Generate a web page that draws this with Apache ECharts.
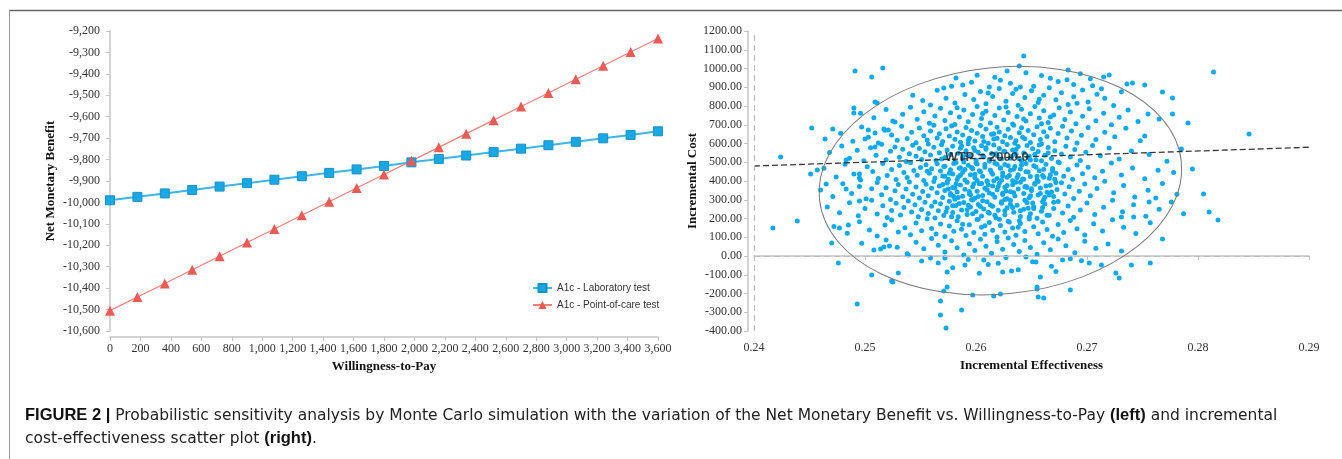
<!DOCTYPE html>
<html>
<head>
<meta charset="utf-8">
<title>Figure 2</title>
<script src="https://cdn.jsdelivr.net/npm/echarts@6/dist/echarts.min.js"></script>
<style>
    html, body { margin: 0; padding: 0; background: #fff; }
    #chart { width: 1342px; height: 459px; }
</style>
</head>
<body>
<div id="chart"></div>
<script>
// ---- left panel: net monetary benefit vs willingness-to-pay ----
var wtpValues = [0, 180, 360, 540, 720, 900, 1080, 1260, 1440, 1620, 1800,
    1980, 2160, 2340, 2520, 2700, 2880, 3060, 3240, 3420, 3600];
var labTestNmb = [-9990, -9974, -9958, -9942, -9926, -9910, -9894, -9878, -9862, -9846, -9830,
    -9813, -9797, -9781, -9765, -9749, -9733, -9717, -9701, -9685, -9668];
var pocTestNmb = [-10505, -10441, -10378, -10314, -10251, -10187, -10124, -10060, -9997, -9933, -9870,
    -9806, -9743, -9679, -9616, -9552, -9489, -9425, -9362, -9298, -9235];
var seriesNames = ['A1c - Laboratory test', 'A1c - Point-of-care test'];

// ---- right panel: incremental cost-effectiveness plane ----
var wtpThreshold = 2000;
var wtpLineEnds = [[0.24, 480], [0.29, 580]];
var wtpLabelPos = [0.2610, 528];
// confidence ellipse: centre, end of major axis, end of minor axis
var ellipseCenter = [0.2622, 402];
var ellipseMajorEnd = [0.2785, 503];
var ellipseMinorEnd = [0.2611, 1003];

var icerPoints = [
    // outliers
    [0.2491,987],[0.2506,955],[0.2516,1003],[0.2643,1067],[0.2639,1013],[0.2509,821],[0.2511,816],[0.2490,789],
    [0.2490,763],[0.2452,683],[0.2471,677],[0.2464,624],[0.2424,528],[0.2451,437],[0.2457,459],[0.2465,384],
    [0.2483,512],[0.2483,357],[0.2495,437],[0.2495,416],[0.2503,672],[0.2500,624],[0.2509,656],[0.2509,581],
    [0.2517,677],[0.2521,672],[0.2525,720],[0.2582,949],[0.2571,896],
    [0.2814,981],[0.2846,651],[0.2791,709],[0.2777,843],[0.2777,757],[0.2768,875],[0.2765,731],[0.2785,571],
    [0.2795,464],[0.2805,331],[0.2752,912],[0.2741,923],[0.2736,917],[0.2720,965],[0.2715,955],[0.2683,992],
    [0.2752,640],
    [0.2417,149],[0.2439,187],[0.2477,149],[0.2485,165],[0.2470,69],[0.2476,-37],[0.2493,-256],[0.2506,-101],
    [0.2524,-133],[0.2525,-139],[0.2530,-91],[0.2514,37],[0.2517,48],[0.2522,53],[0.2495,293],[0.2539,5],
    [0.2559,-11],[0.2566,-37],[0.2572,-11],[0.2574,-85],[0.2574,-165],[0.2571,-187],[0.2568,-240],[0.2568,-315],
    [0.2573,-384],[0.2587,-288],[0.2597,-208],[0.2607,-21],[0.2616,-213],[0.2622,-203],[0.2624,-85],[0.2632,-80],
    [0.2810,235],[0.2818,192],[0.2768,91],[0.2757,-37],[0.2740,-48],[0.2726,-91],[0.2729,-117],[0.2713,-48],
    [0.2702,-37],[0.2685,-181],[0.2658,-112],[0.2655,-165],[0.2655,-176],[0.2656,-219],[0.2661,-224],[0.2654,-32],
    [0.2678,-21],[0.2731,208],[0.2742,208],[0.2762,309],[0.2756,288],
    // 900 - 1000
    [0.2588,912],[0.2601,964],[0.2622,938],[0.2631,921],[0.2645,978],[0.2652,905],[0.2667,948],[0.2674,931],
    [0.2612,902],[0.2596,927],[0.2688,915],[0.2703,946],[0.2705,908],[0.2628,987],[0.2659,963],[0.2578,905],
    [0.2694,972],[0.2617,953],[0.2640,901],[0.2682,940],
    // 800 - 900
    [0.2565,884],[0.2573,842],[0.2581,816],[0.2590,861],[0.2598,835],[0.2604,878],[0.2609,812],[0.2615,851],
    [0.2621,893],[0.2627,826],[0.2633,867],[0.2638,804],[0.2644,845],[0.2650,882],[0.2656,819],[0.2661,858],
    [0.2666,897],[0.2672,833],[0.2677,871],[0.2683,808],[0.2688,849],[0.2696,886],[0.2701,822],[0.2709,863],
    [0.2716,841],[0.2724,803],[0.2731,876],[0.2552,829],[0.2543,858],[0.2559,806],[0.2611,870],[0.2636,890],
    [0.2657,836],[0.2691,815],[0.2713,892],
    // 700 - 800
    [0.2496,762],[0.2508,738],[0.2519,781],[0.2527,715],[0.2534,756],[0.2541,794],[0.2547,729],[0.2553,770],
    [0.2558,708],[0.2563,747],[0.2568,788],[0.2572,723],[0.2577,764],[0.2581,702],[0.2585,741],[0.2589,779],
    [0.2593,716],[0.2597,755],[0.2601,797],[0.2605,733],[0.2609,772],[0.2613,710],[0.2617,750],[0.2621,789],
    [0.2625,726],[0.2629,766],[0.2633,704],[0.2637,744],[0.2641,783],[0.2645,720],[0.2649,759],[0.2653,798],
    [0.2657,736],[0.2661,775],[0.2665,712],[0.2670,752],[0.2675,791],[0.2680,728],[0.2685,768],[0.2690,706],
    [0.2696,746],[0.2702,785],[0.2708,722],[0.2715,761],[0.2722,700],[0.2729,740],[0.2737,779],[0.2746,718],
    [0.2755,757],[0.2606,760],[0.2627,795],[0.2643,731],[0.2659,706],[0.2583,791],[0.2667,741],
    // 600 - 700
    [0.2478,655],[0.2489,612],[0.2497,688],[0.2503,634],[0.2512,603],[0.2518,671],[0.2524,645],[0.2529,618],
    [0.2533,692],[0.2538,627],[0.2542,660],[0.2546,604],[0.2549,683],[0.2553,641],[0.2556,619],[0.2559,667],
    [0.2562,698],[0.2565,630],[0.2567,652],[0.2570,611],[0.2573,679],[0.2576,640],[0.2578,694],[0.2581,623],
    [0.2583,661],[0.2586,607],[0.2588,646],[0.2591,685],[0.2594,628],[0.2596,670],[0.2599,613],[0.2601,655],
    [0.2604,696],[0.2606,637],[0.2609,678],[0.2611,602],[0.2614,649],[0.2616,624],[0.2619,687],[0.2621,662],
    [0.2624,609],[0.2626,641],[0.2629,676],[0.2631,632],[0.2634,697],[0.2636,615],[0.2639,658],[0.2641,684],
    [0.2644,626],[0.2647,669],[0.2649,605],[0.2652,647],[0.2655,690],[0.2658,621],[0.2661,663],[0.2664,637],
    [0.2667,681],[0.2671,610],[0.2674,654],[0.2678,692],[0.2682,629],[0.2686,667],[0.2691,603],[0.2695,644],
    [0.2701,685],[0.2708,622],[0.2716,660],[0.2725,636],[0.2735,681],[0.2748,615],
    // 500 - 600
    [0.2468,552],[0.2479,587],[0.2486,521],[0.2493,564],[0.2499,508],[0.2505,578],[0.2510,537],[0.2515,596],
    [0.2519,513],[0.2523,559],[0.2527,582],[0.2531,527],[0.2534,569],[0.2537,504],[0.2540,545],[0.2543,591],
    [0.2546,532],[0.2549,573],[0.2551,515],[0.2554,556],[0.2557,598],[0.2559,539],[0.2562,580],[0.2564,509],
    [0.2567,551],[0.2569,593],[0.2572,525],[0.2574,566],[0.2577,541],[0.2579,586],[0.2581,502],[0.2584,548],
    [0.2586,575],[0.2588,519],[0.2591,562],[0.2593,599],[0.2595,534],[0.2598,577],[0.2600,511],[0.2602,553],
    [0.2605,588],[0.2607,529],[0.2609,570],[0.2612,506],[0.2614,547],[0.2616,592],[0.2619,536],[0.2621,574],
    [0.2623,517],[0.2626,558],[0.2628,595],[0.2631,522],[0.2633,565],[0.2636,543],[0.2638,584],[0.2641,507],
    [0.2643,550],[0.2646,589],[0.2648,531],[0.2651,572],[0.2654,514],[0.2656,557],[0.2659,597],[0.2662,538],
    [0.2665,579],[0.2668,520],[0.2671,561],[0.2674,501],[0.2677,544],[0.2681,585],[0.2685,528],[0.2689,568],
    [0.2694,510],[0.2699,553],[0.2705,590],[0.2712,535],[0.2720,576],[0.2729,518],[0.2740,560],[0.2756,541],
    [0.2772,505],
    // 400 - 500
    [0.2463,468],[0.2474,421],[0.2482,489],[0.2490,437],[0.2496,405],[0.2502,476],[0.2507,451],[0.2512,413],
    [0.2516,494],[0.2520,429],[0.2524,462],[0.2528,408],[0.2531,483],[0.2535,445],[0.2538,419],[0.2541,497],
    [0.2544,456],[0.2547,431],[0.2550,472],[0.2553,403],[0.2555,487],[0.2558,441],[0.2560,466],[0.2563,416],
    [0.2565,492],[0.2568,453],[0.2570,427],[0.2572,479],[0.2575,410],[0.2577,460],[0.2579,438],[0.2582,499],
    [0.2584,422],[0.2586,471],[0.2588,447],[0.2590,406],[0.2593,484],[0.2595,433],[0.2597,465],[0.2599,418],
    [0.2601,491],[0.2604,450],[0.2606,425],[0.2608,474],[0.2610,401],[0.2613,459],[0.2615,436],[0.2617,495],
    [0.2619,414],[0.2622,469],[0.2624,443],[0.2626,488],[0.2628,420],[0.2631,457],[0.2633,402],[0.2635,478],
    [0.2638,434],[0.2640,464],[0.2642,411],[0.2645,493],[0.2647,448],[0.2649,424],[0.2652,481],[0.2655,407],
    [0.2657,455],[0.2660,430],[0.2663,490],[0.2666,415],[0.2669,467],[0.2672,442],[0.2675,498],[0.2679,426],
    [0.2683,461],[0.2687,409],[0.2691,485],[0.2696,439],[0.2701,473],[0.2707,417],[0.2714,452],[0.2722,496],
    [0.2731,432],[0.2741,470],[0.2752,412],[0.2764,458],[0.2778,446],
    // 300 - 400
    [0.2460,352],[0.2471,318],[0.2480,386],[0.2488,334],[0.2495,371],[0.2501,305],[0.2506,359],[0.2511,392],
    [0.2515,327],[0.2519,364],[0.2523,301],[0.2527,348],[0.2530,381],[0.2534,316],[0.2537,357],[0.2540,395],
    [0.2543,330],[0.2546,368],[0.2549,309],[0.2552,344],[0.2555,383],[0.2557,321],[0.2560,362],[0.2562,398],
    [0.2565,337],[0.2567,374],[0.2570,312],[0.2572,350],[0.2574,389],[0.2577,325],[0.2579,366],[0.2581,303],
    [0.2583,341],[0.2586,379],[0.2588,319],[0.2590,356],[0.2592,393],[0.2594,332],[0.2597,370],[0.2599,308],
    [0.2601,346],[0.2603,385],[0.2606,323],[0.2608,361],[0.2610,397],[0.2612,336],[0.2615,373],[0.2617,314],
    [0.2619,353],[0.2621,388],[0.2624,328],[0.2626,367],[0.2628,306],[0.2631,343],[0.2633,380],[0.2635,320],
    [0.2638,358],[0.2640,394],[0.2643,333],[0.2645,372],[0.2648,311],[0.2650,349],[0.2653,387],[0.2656,326],
    [0.2658,363],[0.2661,302],[0.2664,340],[0.2667,378],[0.2670,317],[0.2673,355],[0.2677,391],[0.2680,331],
    [0.2684,369],[0.2688,307],[0.2693,345],[0.2698,384],[0.2703,322],[0.2709,360],[0.2716,399],[0.2724,338],
    [0.2733,376],[0.2743,315],[0.2755,351],[0.2768,387],[0.2781,329],
    // 200 - 300
    [0.2466,262],[0.2477,231],[0.2486,284],[0.2494,215],[0.2500,253],[0.2506,297],[0.2511,224],[0.2516,268],
    [0.2520,206],[0.2524,243],[0.2528,281],[0.2532,219],[0.2535,259],[0.2539,294],[0.2542,235],[0.2545,273],
    [0.2548,210],[0.2551,248],[0.2554,287],[0.2557,227],[0.2560,265],[0.2563,203],[0.2566,241],[0.2568,279],
    [0.2571,216],[0.2574,256],[0.2576,292],[0.2579,232],[0.2582,270],[0.2584,209],[0.2587,246],[0.2589,285],
    [0.2592,222],[0.2595,261],[0.2597,299],[0.2600,237],[0.2602,275],[0.2605,213],[0.2607,251],[0.2610,289],
    [0.2612,228],[0.2615,266],[0.2618,204],[0.2620,244],[0.2623,282],[0.2626,220],[0.2628,258],[0.2631,296],
    [0.2634,233],[0.2637,271],[0.2640,211],[0.2643,249],[0.2646,286],[0.2649,225],[0.2652,263],[0.2655,201],
    [0.2659,239],[0.2662,277],[0.2666,217],[0.2670,254],[0.2674,291],[0.2678,229],[0.2683,267],[0.2688,207],
    [0.2694,245],[0.2700,283],[0.2707,221],[0.2715,260],[0.2723,298],[0.2732,236],[0.2742,274],[0.2753,212],
    [0.2765,250],[0.2776,288],[0.2787,226],
    // 100 - 200
    [0.2472,158],[0.2484,121],[0.2495,183],[0.2504,139],[0.2511,107],[0.2518,166],[0.2524,192],[0.2530,128],
    [0.2536,151],[0.2541,113],[0.2546,176],[0.2551,135],[0.2556,199],[0.2560,147],[0.2564,118],[0.2568,171],
    [0.2572,104],[0.2576,160],[0.2580,132],[0.2583,188],[0.2587,143],[0.2591,109],[0.2594,167],[0.2598,125],
    [0.2601,195],[0.2605,154],[0.2608,116],[0.2612,179],[0.2615,137],[0.2619,102],[0.2622,163],[0.2626,128],
    [0.2629,186],[0.2633,149],[0.2636,111],[0.2640,174],[0.2644,131],[0.2648,197],[0.2652,156],[0.2656,119],
    [0.2660,181],[0.2664,141],[0.2669,105],[0.2674,168],[0.2679,126],[0.2685,190],[0.2691,145],[0.2698,112],
    [0.2706,172],[0.2714,134],[0.2723,193],[0.2733,153],[0.2744,120],[0.2757,178],[0.2588,170],
    // 0 - 100
    [0.2497,68],[0.2508,32],[0.2519,85],[0.2529,47],[0.2538,12],[0.2546,74],[0.2553,39],[0.2560,93],
    [0.2566,58],[0.2572,21],[0.2578,81],[0.2583,44],[0.2589,6],[0.2594,66],[0.2599,29],[0.2604,89],
    [0.2609,52],[0.2614,15],[0.2619,77],[0.2624,36],[0.2629,96],[0.2634,61],[0.2639,24],[0.2644,83],
    [0.2649,45],[0.2655,9],[0.2661,71],[0.2667,33],[0.2674,91],[0.2681,55],[0.2689,18],[0.2698,79],
    [0.2708,41],[0.2719,64],[0.2731,27],
    // below zero
    [0.2551,-27],[0.2579,-62],[0.2593,-18],[0.2611,-45],[0.2627,-8],[0.2638,-73],[0.2651,-31],[0.2668,-55],
    [0.2685,-14],[0.2603,-92],[0.2620,-38],[0.2645,-5],[0.2590,-48],[0.2672,-82],[0.2695,-25],
    // dense core
    [0.2556,452],[0.2602,318],[0.2631,276],[0.2574,395],[0.2649,512],[0.2611,233],[0.2587,587],[0.2623,404],
    [0.2668,341],[0.2596,472],[0.2639,188],[0.2563,288],[0.2618,545],[0.2655,426],[0.2581,363],[0.2607,611],
    [0.2644,297],[0.2592,247],[0.2629,481],[0.2672,392],[0.2569,518],[0.2615,329],[0.2652,254],[0.2599,436],
    [0.2636,568],[0.2584,312],[0.2621,196],[0.2661,463],[0.2605,387],[0.2642,634],[0.2576,441],[0.2613,272],
    [0.2650,359],[0.2588,529],[0.2626,301],[0.2664,217],[0.2600,498],[0.2637,419],[0.2579,268],[0.2616,652],
    [0.2653,383],[0.2594,344],[0.2632,531],[0.2670,287],[0.2608,162],[0.2645,449],[0.2571,477],[0.2620,371],
    [0.2657,592],[0.2597,226],[0.2634,337],[0.2583,408],[0.2625,558],[0.2662,313],[0.2603,455],[0.2640,242],
    [0.2577,334],[0.2619,489],[0.2656,398],[0.2593,618],[0.2630,181],[0.2667,433],[0.2610,353],[0.2647,527],
    [0.2585,280],[0.2624,427],[0.2660,259],[0.2598,385],[0.2635,602],[0.2573,236],[0.2612,514],[0.2649,322],
    [0.2590,461],[0.2628,376],[0.2665,549],[0.2606,295],[0.2643,410],[0.2580,493],[0.2617,218],[0.2654,475],
    [0.2595,327],[0.2633,259],[0.2671,410],[0.2609,577],[0.2646,366],[0.2586,431],[0.2623,290],[0.2659,508],
    [0.2601,403],[0.2638,153],[0.2575,357],[0.2614,445],[0.2651,283],[0.2591,540],[0.2627,347],[0.2663,374],
    [0.2604,264],[0.2641,486],[0.2582,386],[0.2619,628],[0.2658,333],[0.2596,301],[0.2634,463],[0.2572,426],
    [0.2611,380],[0.2648,208],[0.2589,502],[0.2626,241],[0.2669,455],[0.2606,536],[0.2644,369],[0.2580,318],
    [0.2622,470],[0.2660,290],[0.2599,563],[0.2636,394],[0.2578,209],[0.2616,402],[0.2653,543],[0.2593,271],
    [0.2630,429],[0.2666,326],[0.2608,488],[0.2647,255],[0.2585,468],[0.2624,335],[0.2661,420],[0.2602,196],
    [0.2639,519],[0.2570,381]
];

var captionLines = [
    '{b|FIGURE 2 |} Probabilistic sensitivity analysis by Monte Carlo simulation with the variation of the Net Monetary Benefit vs. Willingness-to-Pay {b|(left)} and incremental',
    'cost-effectiveness scatter plot {b|(right)}.'
];

var serifFont = '"Liberation Serif", "DejaVu Serif", serif';
var sansFont = '"Liberation Sans", Arial, sans-serif';
var captionFont = '"DejaVu Sans", "Liberation Sans", sans-serif';
var axisGray = '#c4c4c4';

function thousands(v) {
    return v.toLocaleString('en-US');
}

function pairs(xs, ys) {
    var out = [];
    for (var i = 0; i < xs.length; i++) {
        out.push([xs[i], ys[i]]);
    }
    return out;
}

// draw the confidence ellipse from its centre and two axis end points
function renderEllipse(params, api) {
    var c = api.coord([api.value(0), api.value(1)]);
    var a = api.coord([api.value(2), api.value(3)]);
    var b = api.coord([api.value(4), api.value(5)]);
    var rx = Math.sqrt(Math.pow(a[0] - c[0], 2) + Math.pow(a[1] - c[1], 2));
    var ry = Math.sqrt(Math.pow(b[0] - c[0], 2) + Math.pow(b[1] - c[1], 2));
    return {
        type: 'ellipse',
        x: c[0],
        y: c[1],
        rotation: Math.atan2(c[1] - a[1], a[0] - c[0]),
        shape: { cx: 0, cy: 0, rx: rx, ry: ry },
        style: { fill: 'none', stroke: '#7a7a7a', lineWidth: 1 },
        silent: true
    };
}

function axisCommon() {
    return {
        axisLine: { show: true, lineStyle: { color: axisGray, width: 1.5 } },
        axisTick: { show: true, length: 4, lineStyle: { color: axisGray } },
        splitLine: { show: false },
        nameTextStyle: { fontFamily: serifFont, fontWeight: 'bold', fontSize: 13, color: '#111' }
    };
}

function captionText(text, top) {
    return {
        type: 'text', left: 25, top: top,
        style: {
            text: text, fontFamily: captionFont, fontSize: 15.5, fill: '#222',
            rich: { b: { fontWeight: 'bold', fontFamily: sansFont, fontSize: 16.5, fill: '#111' } }
        }
    };
}

var chart = echarts.init(document.getElementById('chart'));

var option = {
    animation: false,
    backgroundColor: '#fff',
    textStyle: { fontFamily: serifFont },
    grid: [
        { left: 110, right: 684, top: 31, bottom: 128 },
        { left: 754, right: 33, top: 31, bottom: 128 }
    ],
    legend: {
        orient: 'vertical',
        left: 527,
        top: 278,
        itemGap: 7,
        itemWidth: 19,
        itemHeight: 10,
        data: seriesNames,
        textStyle: { fontFamily: sansFont, fontSize: 10, color: '#333' }
    },
    xAxis: [
        Object.assign(axisCommon(), {
            gridIndex: 0,
            type: 'value',
            min: 0,
            max: 3600,
            interval: 200,
            offset: 6,
            name: 'Willingness-to-Pay',
            nameLocation: 'middle',
            nameGap: 19,
            axisLabel: { formatter: thousands, fontFamily: serifFont, fontSize: 12, color: '#333', margin: 6 }
        }),
        Object.assign(axisCommon(), {
            gridIndex: 1,
            type: 'value',
            min: 0.24,
            max: 0.29,
            interval: 0.01,
            offset: 5,
            name: 'Incremental Effectiveness',
            nameLocation: 'middle',
            nameGap: 20,
            axisLabel: {
                formatter: function (v) { return v.toFixed(2); },
                fontFamily: serifFont, fontSize: 12, color: '#333', margin: 6
            }
        })
    ],
    yAxis: [
        Object.assign(axisCommon(), {
            gridIndex: 0,
            type: 'value',
            min: -10600,
            max: -9200,
            interval: 100,
            offset: 4,
            name: 'Net Monetary Benefit',
            nameLocation: 'middle',
            nameGap: 49,
            axisLabel: { formatter: thousands, fontFamily: serifFont, fontSize: 12, color: '#333', margin: 6 }
        }),
        Object.assign(axisCommon(), {
            gridIndex: 1,
            type: 'value',
            min: -400,
            max: 1200,
            interval: 100,
            offset: 6,
            name: 'Incremental Cost',
            nameLocation: 'middle',
            nameGap: 46,
            axisLabel: {
                formatter: function (v) { return v.toFixed(2); },
                fontFamily: serifFont, fontSize: 12, color: '#333', margin: 6
            }
        })
    ],
    series: [
        {
            name: seriesNames[0],
            type: 'line',
            xAxisIndex: 0,
            yAxisIndex: 0,
            data: pairs(wtpValues, labTestNmb),
            symbol: 'rect',
            symbolSize: 9,
            itemStyle: { color: '#1aa8e4', borderColor: '#1593c9', borderWidth: 1 },
            lineStyle: { color: '#3db4ea', width: 2 }
        },
        {
            name: seriesNames[1],
            type: 'line',
            xAxisIndex: 0,
            yAxisIndex: 0,
            data: pairs(wtpValues, pocTestNmb),
            symbol: 'triangle',
            symbolSize: 10,
            itemStyle: { color: '#ec5a53' },
            lineStyle: { color: '#f47f77', width: 1.2 }
        },
        {
            type: 'scatter',
            xAxisIndex: 1,
            yAxisIndex: 1,
            data: icerPoints,
            symbolSize: 5,
            itemStyle: { color: '#0eaaf0', opacity: 1 },
            markLine: {
                silent: true,
                symbol: 'none',
                label: { show: false },
                lineStyle: { type: [6, 4], color: '#bdbdbd', width: 1.2 },
                data: [{ yAxis: 0 }, { xAxis: 0.24 }]
            }
        },
        {
            type: 'custom',
            xAxisIndex: 1,
            yAxisIndex: 1,
            renderItem: renderEllipse,
            data: [ellipseCenter.concat(ellipseMajorEnd, ellipseMinorEnd)],
            z: 3
        },
        {
            type: 'line',
            xAxisIndex: 1,
            yAxisIndex: 1,
            data: wtpLineEnds,
            symbol: 'none',
            lineStyle: { type: [6, 3], color: '#3a3a3a', width: 1.3 },
            z: 4
        },
        {
            type: 'scatter',
            xAxisIndex: 1,
            yAxisIndex: 1,
            data: [wtpLabelPos],
            symbolSize: 0,
            z: 5,
            label: {
                show: true,
                position: 'inside',
                formatter: 'WTP = ' + wtpThreshold.toFixed(1),
                fontFamily: sansFont,
                fontWeight: 'bold',
                fontSize: 13,
                color: '#1a1a1a'
            }
        }
    ],
    graphic: [
        { type: 'line', shape: { x1: 9, y1: 10.5, x2: 1342, y2: 10.5 }, style: { stroke: '#666', lineWidth: 1.5 } },
        { type: 'line', shape: { x1: 9.5, y1: 10, x2: 9.5, y2: 459 }, style: { stroke: '#9a9a9a', lineWidth: 1 } },
        captionText(captionLines[0], 407),
        captionText(captionLines[1], 430)
    ]
};

chart.setOption(option);
</script>
</body>
</html>
